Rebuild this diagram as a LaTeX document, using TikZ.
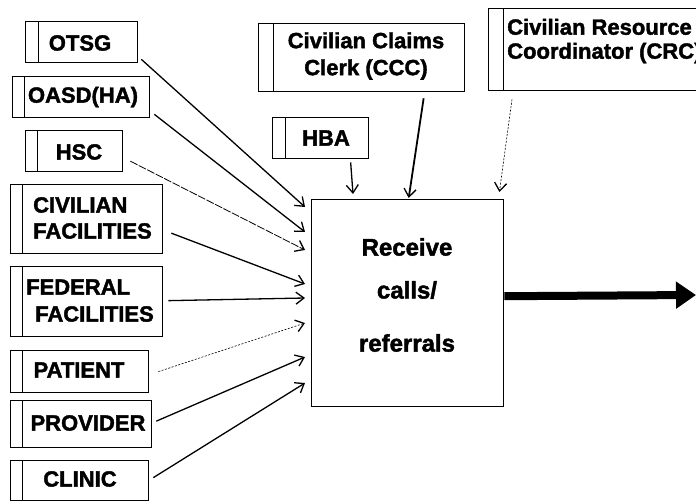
\documentclass[tikz,border=0pt]{standalone}
\usepackage{fontspec}
\setmainfont{Liberation Sans}[BoldFeatures={FakeBold=1.8}]
\usetikzlibrary{arrows.meta,calc}
\begin{document}
\begin{tikzpicture}[x=1pt,y=-1pt,
  font=\fontsize{22}{26}\selectfont\bfseries,
  % source box: rectangle with a narrow strip on its left side
  srcbox/.style={draw, line width=1.3pt, rectangle, inner sep=0pt, anchor=north west,
    path picture={\draw[line width=1.3pt]
      ([xshift=#1]path picture bounding box.north west) --
      ([xshift=#1]path picture bounding box.south west);}},
  srcbox/.default=12pt,
  procbox/.style={draw, line width=1.4pt, rectangle, inner sep=0pt, anchor=north west},
  lbl/.style={inner sep=0pt, align=left},
  tightlbl/.style={lbl, font=\fontsize{22}{24}\selectfont\bfseries},
  biglbl/.style={lbl, font=\fontsize{24}{28}\selectfont\bfseries},
  feed/.style={line width=1.3pt, -{Straight Barb[length=8pt,width=12pt,line width=1.3pt]}},
  thinfeed/.style={feed, line width=0.8pt, dash pattern=on 8pt off 1.5pt},
  dotfeed/.style={feed, line width=0.6pt, dash pattern=on 2pt off 1.5pt},
  outflow/.style={line width=8pt, -{Triangle[length=20pt,width=26pt]}}
]
\useasboundingbox (0,0) rectangle (696,501);
\clip (0,0) rectangle (696,501);

% sources on the left
\node[srcbox=13pt, minimum width=112, minimum height=41] (otsg) at (25,21) {};
\node[lbl] (otsgt) at (80,43) {OTSG};
\node[srcbox, minimum width=137, minimum height=41] (oasd) at (12,76) {};
\node[lbl] (oasdt) at (83,97) {OASD(HA)};
\node[srcbox, minimum width=97, minimum height=41] (hsc) at (25,130) {};
\node[lbl] (hsct) at (79,152) {HSC};
\node[srcbox, minimum width=152, minimum height=69] (civ) at (10,184) {};
\node[lbl, anchor=west] (civt1) at (33,205) {CIVILIAN};
\node[lbl, anchor=west] (civt2) at (33,231) {FACILITIES};
\node[srcbox, minimum width=152, minimum height=70] (fed) at (10,266) {};
\node[lbl, anchor=west] (fedt1) at (26,287) {FEDERAL};
\node[lbl, anchor=west] (fedt2) at (35,314) {FACILITIES};
\node[srcbox, minimum width=138, minimum height=42] (pat) at (10,350) {};
\node[lbl] (patt) at (79,370) {PATIENT};
\node[srcbox, minimum width=141, minimum height=47] (prov) at (10,400) {};
\node[lbl] (provt) at (88,423) {PROVIDER};
\node[srcbox, minimum width=138, minimum height=40] (clin) at (10,460) {};
\node[lbl] (clint) at (80,479) {CLINIC};

% sources on top
\node[srcbox=15pt, minimum width=206, minimum height=68] (ccc) at (258,23) {};
\node[tightlbl, align=center] (ccct) at (366,56) {Civilian Claims\\[3pt]Clerk (CCC)};
\node[srcbox=13pt, minimum width=96, minimum height=41] (hba) at (272,117) {};
\node[lbl] (hbat) at (326,138) {HBA};
\node[srcbox=15pt, minimum width=230, minimum height=82] (crc) at (488,8) {};
\node[tightlbl, anchor=west] (crct) at (507,41) {Civilian Resource\\Coordinator (CRC)};

% process
\node[procbox, minimum width=192, minimum height=207] (main) at (311,199) {};
\node[biglbl] (m1) at (407,247) {Receive};
\node[biglbl] (m2) at (407,290) {calls/};
\node[biglbl] (m3) at (407,343) {referrals};
\coordinate (out) at (696,295);

% flows into the process
\draw[feed] ($(otsg.south east)+(3,-4)$) -- ($(main.north west)+(-6,8)$);
\draw[feed] ($(oasd.south east)+(4,-4)$) -- ($(main.north west)+(-6,33)$);
\draw[thinfeed] ($(hsc.east)+(7,10)$) -- ($(main.north west)+(-6,51)$);
\draw[feed] ($(civ.east)+(8,14)$) -- ($(main.north west)+(-6,85)$);
\draw[feed] ($(fed.east)+(5,-1)$) -- ($(main.north west)+(-6,99)$);
\draw[dotfeed] ($(pat.east)+(9,0)$) -- ($(main.north west)+(-6,124)$);
\draw[feed] ($(prov.east)+(4,-3)$) -- ($(main.north west)+(-6,158)$);
\draw[feed] ($(clin.east)+(4,-3)$) -- ($(main.north west)+(-6,184)$);

\draw[feed] ($(hba.south)+(30,3)$) -- ($(main.north west)+(42,-5)$);
\draw[feed, line width=1.8pt] ($(ccc.south)+(62,6)$) -- ($(main.north)+(1,-1)$);
\draw[dotfeed] ($(crc.south west)+(24,8)$) -- ($(main.north east)+(-5,-7)$);

% result
\draw[outflow] ($(main.east)+(0,-7)$) -- (out);
\end{tikzpicture}
\end{document}
